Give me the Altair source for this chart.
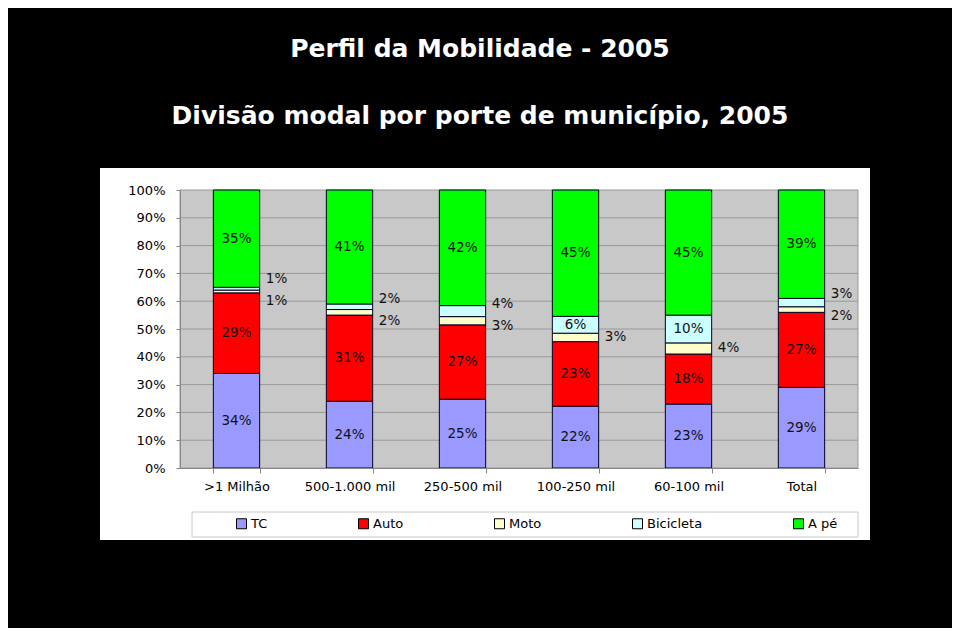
import altair as alt
import pandas as pd

title1 = "Perfil da Mobilidade - 2005"
title2 = "Divisão modal por porte de município, 2005"

categories = [">1 Milhão", "500-1.000 mil", "250-500 mil", "100-250 mil", "60-100 mil", "Total"]
modes = ["TC", "Auto", "Moto", "Bicicleta", "A pé"]
tc = [34, 24, 25, 22, 23, 29]
auto = [29, 31, 27, 23, 18, 27]
moto = [1, 2, 3, 3, 4, 2]
bici = [1, 2, 4, 6, 10, 3]
ape = [35, 41, 42, 45, 45, 39]
colors = ["#9999FF", "#FF0000", "#FFFFCC", "#CCFFFF", "#00FF00"]
y_ticks = [0.0, 0.1, 0.2, 0.3, 0.4, 0.5, 0.6, 0.7, 0.8, 0.9, 1.0]
grid_vals = [0.1, 0.2, 0.3, 0.4, 0.5, 0.6, 0.7, 0.8, 0.9]

FONT = "DejaVu Sans"

rows = []
for i, cat in enumerate(categories):
    vals = [tc[i], auto[i], moto[i], bici[i], ape[i]]
    tot = float(sum(vals))
    cum = 0
    seg = []
    for k, (m, v) in enumerate(zip(modes, vals)):
        y0 = cum / tot
        cum += v
        y1 = cum / tot
        seg.append(dict(cat=cat, mode=m, order=k, value=v, y0=y0, y1=y1,
                        ly=(y0 + y1) / 2, label=f"{v}%",
                        grp="in" if v >= 5 else "single"))
    if seg[2]["grp"] == "single" and seg[3]["grp"] == "single":
        pm = (seg[2]["y0"] + seg[3]["y1"]) / 2
        seg[2]["ly"] = pm
        seg[3]["ly"] = pm
        seg[2]["grp"] = "down"
        seg[3]["grp"] = "up"
    rows.extend(seg)
df = pd.DataFrame(rows)

yscale = alt.Scale(domain=[0, 1])
xscale = alt.Scale(paddingInner=0.59, paddingOuter=0.295)
xaxis = alt.Axis(title=None, labelAngle=0, tickBand="extent", tickSize=5,
                 domainColor="#888888", tickColor="#888888", labelPadding=7,
                 labelFont=FONT, labelFontSize=13, labelColor="black",
                 grid=False, zindex=1)
yaxis = alt.Axis(title=None, values=y_ticks, format=".0%", grid=False,
                 domainColor="#888888", tickColor="#888888", tickSize=4,
                 labelPadding=11, labelFont=FONT, labelFontSize=13,
                 labelColor="black", zindex=1)
xenc = alt.X("cat:N", sort=categories, scale=xscale, axis=xaxis)

one = pd.DataFrame({"a": [0]})

panel = alt.Chart(one).mark_rect(fill="white").encode(
    x=alt.value(-80), x2=alt.value(690), y=alt.value(-22), y2=alt.value(350))

plotbg = alt.Chart(one).mark_rect(fill="#C8C8C8", stroke="#999999", strokeWidth=1).encode(
    x=alt.value(0), x2=alt.value(678), y=alt.value(0), y2=alt.value(278))

legbox = alt.Chart(one).mark_rect(fill="white", stroke="#C8C8C8", strokeWidth=1).encode(
    x=alt.value(12), x2=alt.value(678), y=alt.value(322), y2=alt.value(347))

grid = alt.Chart(pd.DataFrame({"v": grid_vals})).mark_rule(color="#999999", strokeWidth=1).encode(
    y=alt.Y("v:Q", scale=yscale, axis=yaxis), x=alt.value(0), x2=alt.value(678))

bars = alt.Chart(df).mark_bar(stroke="#000022", strokeWidth=1).encode(
    x=xenc,
    y=alt.Y("y0:Q", scale=yscale, axis=yaxis),
    y2="y1:Q",
    color=alt.Color("mode:N", scale=alt.Scale(domain=modes, range=colors),
                    legend=alt.Legend(title=None, orient="none", legendX=55, legendY=327,
                                      direction="horizontal", symbolType="square",
                                      symbolSize=100, symbolStrokeColor="black",
                                      symbolStrokeWidth=1, labelFont=FONT,
                                      labelFontSize=13, labelColor="black",
                                      labelOffset=3, columnPadding=88, padding=0,
                                      zindex=1)),
    order=alt.Order("order:Q"),
)


def labels(grp, dx=0, dy=0):
    return alt.Chart(df).transform_filter(alt.datum.grp == grp).mark_text(
        font=FONT, fontSize=13.5, color="#111111", dx=dx, dy=dy).encode(
        x=xenc, y=alt.Y("ly:Q", scale=yscale, axis=yaxis), text="label:N")


lab_in = labels("in")
lab_up = labels("up", dx=40, dy=-11)
lab_down = labels("down", dx=40, dy=11)
lab_single = labels("single", dx=40, dy=0)

t1 = alt.Chart(pd.DataFrame({"t": [title1]})).mark_text(
    font=FONT, fontSize=25, fontWeight="bold", color="white", baseline="alphabetic").encode(
    x=alt.value(300), y=alt.value(-133), text="t:N")
t2 = alt.Chart(pd.DataFrame({"t": [title2]})).mark_text(
    font=FONT, fontSize=25, fontWeight="bold", color="white", baseline="alphabetic").encode(
    x=alt.value(300), y=alt.value(-66), text="t:N")

chart = alt.layer(panel, plotbg, legbox, grid, bars, lab_in, lab_up, lab_down, lab_single, t1, t2).properties(
    width=678, height=278,
    autosize=alt.AutoSizeParams(type="none"),
    padding={"left": 172, "top": 182, "right": 94, "bottom": 160},
).configure(background="black").configure_view(stroke=None)

chart.save("out.html", embed_options={"renderer": "svg", "actions": False})
